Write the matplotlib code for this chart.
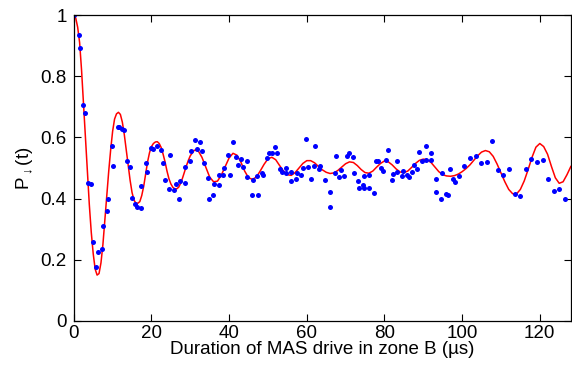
"""
P_down(t) vs duration of MAS drive in zone B: measured points + fitted curve
"""

import matplotlib
matplotlib.use("Agg")
import matplotlib.pyplot as plt

plt.rcParams["font.family"] = ["Liberation Sans", "DejaVu Sans"]
plt.rcParams["mathtext.fontset"] = "custom"
plt.rcParams["mathtext.rm"] = "Liberation Sans"

# ── measured points (time in µs, probability) ──
dots_t = [0.0, 1.3, 1.5, 2.5, 2.8, 3.7, 4.4, 5.0, 5.7, 6.2, 7.2, 7.4, 8.6, 8.8,
          9.9, 10.1, 11.3, 11.6, 12.5, 12.9, 13.7, 14.4, 14.9, 15.8, 16.3, 17.2,
          17.4, 18.6, 18.8, 19.9, 20.3, 21.3, 22.4, 23.0, 23.6, 24.5, 24.9, 25.8,
          26.2, 27.2, 27.4, 28.7, 28.7, 29.8, 30.2, 31.1, 31.6, 32.4, 33.1, 33.6,
          34.5, 34.8, 35.9, 36.1, 37.3, 37.3, 38.5, 38.8, 39.8, 40.2, 41.1, 41.7,
          42.3, 43.0, 43.5, 44.5, 44.7, 46.0, 46.2, 47.2, 47.4, 48.4, 48.8, 49.7,
          50.3, 51.1, 51.7, 52.3, 53.1, 53.6, 54.7, 54.7, 56.0, 56.0, 57.2, 57.6,
          58.4, 58.9, 59.7, 60.4, 61.0, 61.8, 62.2, 63.2, 63.5, 64.7, 65.9, 66.1,
          67.2, 67.6, 68.3, 68.9, 69.6, 70.4, 70.8, 71.8, 72.1, 73.2, 73.4, 74.6,
          74.7, 74.7, 75.9, 76.1, 77.2, 77.7, 78.3, 79.0, 79.6, 80.5, 80.8, 81.9,
          82.2, 83.3, 83.3, 84.4, 84.8, 85.9, 86.2, 87.1, 87.7, 88.4, 89.0, 89.6,
          90.8, 90.7, 92.0, 92.0, 93.2, 93.4, 94.5, 94.9, 95.8, 96.3, 97.0, 97.7,
          98.2, 99.2, 100.6, 102.0, 103.5, 104.9, 106.3, 107.8, 109.2, 110.6,
          112.1, 113.5, 115.0, 116.4, 117.8, 119.2, 120.7, 122.1, 123.6, 125.0,
          126.5]
dots_p = [1.000, 0.934, 0.892, 0.706, 0.681, 0.450, 0.448, 0.259, 0.175, 0.226,
          0.235, 0.310, 0.358, 0.398, 0.572, 0.508, 0.635, 0.633, 0.626, 0.624,
          0.524, 0.504, 0.403, 0.381, 0.373, 0.441, 0.370, 0.517, 0.488, 0.566,
          0.561, 0.571, 0.558, 0.517, 0.462, 0.431, 0.541, 0.428, 0.449, 0.400,
          0.457, 0.451, 0.503, 0.524, 0.557, 0.592, 0.561, 0.584, 0.557, 0.517,
          0.466, 0.399, 0.412, 0.448, 0.444, 0.477, 0.478, 0.500, 0.542, 0.478,
          0.584, 0.536, 0.509, 0.528, 0.503, 0.523, 0.470, 0.412, 0.461, 0.474,
          0.412, 0.483, 0.478, 0.533, 0.548, 0.550, 0.570, 0.550, 0.497, 0.488,
          0.499, 0.483, 0.488, 0.458, 0.464, 0.485, 0.478, 0.500, 0.596, 0.503,
          0.465, 0.507, 0.571, 0.497, 0.508, 0.460, 0.374, 0.423, 0.484, 0.539,
          0.471, 0.495, 0.475, 0.539, 0.548, 0.536, 0.484, 0.458, 0.434, 0.444,
          0.434, 0.474, 0.436, 0.478, 0.419, 0.522, 0.524, 0.499, 0.491, 0.526,
          0.559, 0.460, 0.479, 0.523, 0.488, 0.473, 0.491, 0.478, 0.472, 0.486,
          0.511, 0.498, 0.551, 0.523, 0.573, 0.526, 0.548, 0.525, 0.465, 0.422,
          0.398, 0.483, 0.416, 0.412, 0.497, 0.463, 0.453, 0.475, 0.508, 0.532,
          0.538, 0.516, 0.520, 0.589, 0.494, 0.478, 0.497, 0.415, 0.408, 0.497,
          0.528, 0.520, 0.526, 0.463, 0.426, 0.431, 0.400]

# ── fitted curve ──
curve_t = [0.0, 0.5, 1.0, 1.5, 2.0, 2.5, 3.0, 3.5, 4.0, 4.5, 5.0, 5.5, 6.0, 6.5,
           7.0, 7.5, 8.0, 8.5, 9.0, 9.5, 10.0, 10.5, 11.0, 11.5, 12.0, 12.5,
           13.0, 13.5, 14.0, 14.5, 15.0, 15.5, 16.0, 16.5, 17.0, 17.5, 18.0,
           18.5, 19.0, 19.5, 20.0, 20.5, 21.0, 21.5, 22.0, 22.5, 23.0, 23.5,
           24.0, 24.5, 25.0, 25.5, 26.0, 26.5, 27.0, 27.5, 28.0, 28.5, 29.0,
           29.5, 30, 31, 32, 33, 34, 35, 36, 37, 38, 39, 40, 41, 42, 43, 44, 45,
           46, 47, 48, 49, 50, 51, 52, 53, 54, 55, 56, 57, 58, 59, 60, 61, 62,
           63, 64, 65, 66, 67, 68, 69, 70, 71, 72, 73, 74, 75, 76, 77, 78, 79,
           80, 81, 82, 83, 84, 85, 86, 87, 88, 89, 90, 91, 92, 93, 94, 95, 96,
           97, 98, 99, 100, 101, 102, 103, 104, 105, 106, 107, 108, 109, 110,
           111, 112, 113, 114, 115, 116, 117, 118, 119, 120, 121, 122, 123, 124,
           125, 126, 127, 128]
curve_p = [1.000, 0.990, 0.960, 0.910, 0.820, 0.710, 0.600, 0.490, 0.380, 0.290,
           0.220, 0.170, 0.150, 0.155, 0.190, 0.250, 0.330, 0.410, 0.490, 0.560,
           0.620, 0.660, 0.677, 0.682, 0.675, 0.650, 0.610, 0.560, 0.510, 0.460,
           0.420, 0.395, 0.385, 0.385, 0.390, 0.410, 0.440, 0.480, 0.520, 0.550,
           0.570, 0.580, 0.585, 0.586, 0.580, 0.567, 0.545, 0.520, 0.490, 0.465,
           0.448, 0.437, 0.432, 0.432, 0.437, 0.450, 0.467, 0.487, 0.507, 0.525,
           0.540, 0.558, 0.557, 0.535, 0.502, 0.470, 0.455, 0.457, 0.477, 0.505,
           0.533, 0.548, 0.542, 0.520, 0.490, 0.468, 0.463, 0.470, 0.490, 0.512,
           0.530, 0.535, 0.527, 0.508, 0.490, 0.478, 0.476, 0.485, 0.500, 0.515,
           0.524, 0.524, 0.517, 0.505, 0.494, 0.486, 0.482, 0.484, 0.492, 0.503,
           0.514, 0.520, 0.518, 0.508, 0.495, 0.485, 0.483, 0.490, 0.503, 0.515,
           0.523, 0.520, 0.510, 0.497, 0.487, 0.485, 0.490, 0.502, 0.515, 0.525,
           0.529, 0.527, 0.518, 0.503, 0.488, 0.478, 0.474, 0.473, 0.475, 0.480,
           0.488, 0.498, 0.510, 0.525, 0.540, 0.552, 0.557, 0.553, 0.538, 0.513,
           0.484, 0.455, 0.430, 0.416, 0.415, 0.430, 0.458, 0.495, 0.535, 0.568,
           0.580, 0.570, 0.545, 0.505, 0.468, 0.450, 0.455, 0.478, 0.505]

x_ticks = [0, 20, 40, 60, 80, 100, 120]
y_ticks = [0, 0.2, 0.4, 0.6, 0.8, 1]
y_tick_labels = ["0", "0.2", "0.4", "0.6", "0.8", "1"]


def main():
    fig = plt.figure(figsize=(5.72, 3.66), dpi=100)
    ax = fig.add_axes([0.129, 0.123, 0.869, 0.836])

    ax.plot(curve_t, curve_p, color="red", linewidth=1.1)
    ax.plot(dots_t, dots_p, "o", color="blue", markersize=3.6,
            markeredgewidth=0)

    ax.set_xlim(0, 128)
    ax.set_ylim(0, 1)
    ax.set_xticks(x_ticks)
    ax.set_xticklabels([str(v) for v in x_ticks])
    ax.set_yticks(y_ticks)
    ax.set_yticklabels(y_tick_labels)
    ax.tick_params(direction="in", length=5, width=0.8, labelsize=13.5,
                   top=True, right=True)
    ax.tick_params(axis="x", pad=3)
    ax.tick_params(axis="y", pad=5)
    for sp in ax.spines.values():
        sp.set_linewidth(0.9)

    ax.set_xlabel("Duration of MAS drive in zone B (\u00b5s)", fontsize=13.5,
                  labelpad=-1)
    ax.set_ylabel(r"P$_{\downarrow}$(t)", fontsize=13.5, labelpad=3)

    fig.savefig("out.png", dpi=100)
    plt.close(fig)


if __name__ == "__main__":
    main()
